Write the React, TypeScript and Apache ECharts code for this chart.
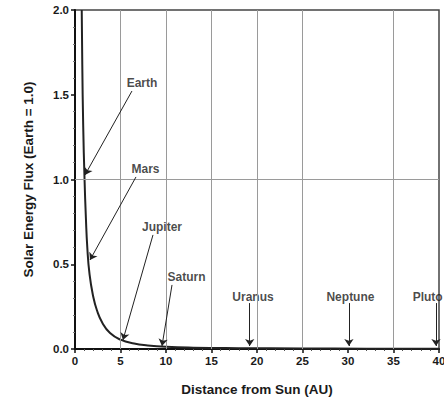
import React, { useEffect, useRef } from "react";
import * as echarts from "echarts";

// Curve: distance (AU) and flux (Earth = 1.0)
const curveDist = [0.74, 0.8, 0.9, 1.05, 1.2, 1.35, 1.6, 2.0, 2.4, 3.0, 3.85, 5.0, 6.5, 8, 10, 13, 18, 25, 32, 40];
const curveFlux = [2.0, 1.68, 1.32, 1.0, 0.77, 0.6, 0.44, 0.31, 0.23, 0.155, 0.094, 0.055, 0.032, 0.021, 0.013, 0.008, 0.005, 0.003, 0.002, 0.0015];

// Planet annotations
const planets = ["Earth", "Mars", "Jupiter", "Saturn", "Uranus", "Neptune", "Pluto"];
const planetDist = [1.1, 1.65, 5.27, 9.56, 19.2, 30.1, 39.67];
const planetFlux = [1.027, 0.525, 0.053, 0.018, 0.018, 0.018, 0.018];
const labelDist = [7.36, 7.75, 9.56, 12.25, 19.56, 30.27, 38.75];
const labelFlux = [1.57, 1.06, 0.717, 0.425, 0.307, 0.307, 0.307];
const arrowStartDist = [6.26, 6.7, 8.57, 10.66, 19.2, 30.1, 39.67];
const arrowStartFlux = [1.522, 1.015, 0.673, 0.378, 0.271, 0.271, 0.271];

// Grid lines present in the picture
const gridX = [5, 10, 15, 20, 25, 35];
const gridY = [1.0];

const xTicks = [0, 5, 10, 15, 20, 25, 30, 35, 40];
const yTicks = [0, 0.5, 1.0, 1.5, 2.0];

const FONT = "'Liberation Sans', Arial, sans-serif";

export default function App() {
  const ref = useRef<HTMLDivElement>(null);
  useEffect(() => {
    if (!ref.current) return;
    const chart = echarts.init(ref.current, null, { renderer: "svg" });
    const curve = curveDist.map((d, i) => [d, curveFlux[i]]);
    const option: any = {
      animation: false,
      backgroundColor: "#fff",
      grid: {
        left: 75,
        right: 5,
        top: 10,
        bottom: 48,
        show: true,
        borderColor: "#444",
        borderWidth: 1.5,
        containLabel: false,
        outerBoundsMode: "none",
      },
      xAxis: {
        type: "value",
        min: xTicks[0],
        max: xTicks[xTicks.length - 1],
        interval: 5,
        name: "Distance from Sun (AU)",
        nameLocation: "middle",
        nameGap: 33,
        nameTextStyle: { fontFamily: FONT, fontWeight: "bold", fontSize: 13.5, color: "#1a1a1a" },
        axisLine: { lineStyle: { color: "#111", width: 2 } },
        axisTick: { show: true, inside: false, length: 4, lineStyle: { color: "#111", width: 1.5 } },
        minorTick: { show: true, splitNumber: 5, length: 2, lineStyle: { color: "#555", width: 1 } },
        splitLine: { show: false },
        axisLabel: { fontFamily: FONT, fontWeight: "bold", fontSize: 11.5, color: "#1a1a1a", margin: 6 },
      },
      yAxis: {
        type: "value",
        min: yTicks[0],
        max: yTicks[yTicks.length - 1],
        interval: 0.5,
        name: "Solar Energy Flux (Earth = 1.0)",
        nameLocation: "middle",
        nameGap: 40,
        nameTextStyle: { fontFamily: FONT, fontWeight: "bold", fontSize: 13.5, color: "#1a1a1a" },
        axisLine: { lineStyle: { color: "#111", width: 2 } },
        axisTick: { show: true, inside: false, length: 4, lineStyle: { color: "#111", width: 1.5 } },
        minorTick: { show: true, splitNumber: 5, length: 2, lineStyle: { color: "#777", width: 1 } },
        splitLine: { show: false },
        axisLabel: {
          fontFamily: FONT,
          fontWeight: "bold",
          fontSize: 11.5,
          color: "#1a1a1a",
          margin: 6,
          formatter: (v: number) => v.toFixed(1),
        },
      },
      series: [
        {
          type: "line",
          data: curve,
          showSymbol: false,
          silent: true,
          lineStyle: { width: 0, opacity: 0 },
          z: 1,
          markLine: {
            silent: true,
            symbol: ["none", "none"],
            label: { show: false },
            lineStyle: { color: "#9a9a9a", width: 1, type: "solid" },
            data: [
              ...gridX.map((x) => ({ xAxis: x })),
              ...gridY.map((y) => ({ yAxis: y })),
            ],
          },
        },
        {
          type: "line",
          data: curve,
          smooth: true,
          showSymbol: false,
          silent: true,
          lineStyle: { color: "#222", width: 2 },
          z: 3,
          markLine: {
            silent: true,
            symbol: ["none", "arrow"],
            symbolSize: 7,
            label: { show: false },
            lineStyle: { color: "#222", width: 1, type: "solid" },
            data: planets.map((p, i) => [
              { coord: [arrowStartDist[i], arrowStartFlux[i]] },
              { coord: [planetDist[i], planetFlux[i]] },
            ]),
          },
        },
        {
          type: "scatter",
          symbolSize: 0,
          silent: true,
          z: 4,
          data: planets.map((p, i) => ({ value: [labelDist[i], labelFlux[i]], name: p })),
          label: {
            show: true,
            position: "inside",
            formatter: (params: any) => params.name,
            fontFamily: FONT,
            fontWeight: "bold",
            fontSize: 12,
            color: "#1a1a1a",
          },
        },
      ],
    };
    chart.setOption(option);
    return () => chart.dispose();
  }, []);
  return <div ref={ref} style={{ width: 444, height: 397, position: "absolute", left: 0, top: 0 }} />;
}
